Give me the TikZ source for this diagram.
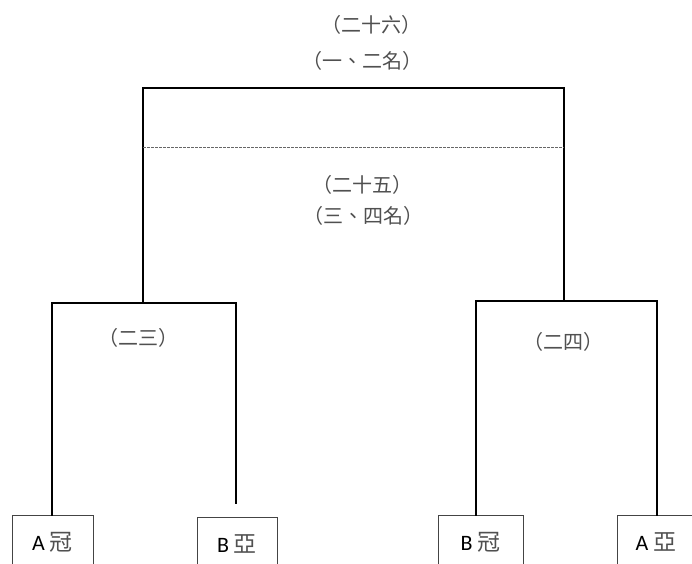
\documentclass[tikz,border=0pt]{standalone}
\usepackage{fontspec}
\setmainfont{Carlito}
\newfontfamily\cjk{Noto Sans CJK TC}
\definecolor{labelgray}{HTML}{505050}
\definecolor{boxgray}{HTML}{444444}
\tikzset{
  tag/.style={font=\cjk\fontsize{20}{20}\selectfont, text=labelgray, inner sep=0pt},
  team/.style={draw=boxgray, line width=0.8pt, anchor=north, minimum height=54pt, inner sep=0pt, font=\fontsize{22}{22}\selectfont},
  bracket/.style={line width=1.6pt, line cap=rect},
  thirdline/.style={draw=black!60, line width=0.8pt, dash pattern=on 3pt off 1pt}
}
\newcommand{\teamlabel}[2]{#1 {\cjk\fontsize{23}{23}\selectfont\color{labelgray}#2}}
\begin{document}
\begin{tikzpicture}[x=1pt,y=-1pt]
\useasboundingbox (0,0) rectangle (692,563);
\clip (0,0) rectangle (692,563);
\fill[white] (0,0) rectangle (692,563);

% match labels
\node[tag] (m26) at (371,25) {（二十六）};
\node[tag] (r12) at (362,61) {（一、二名）};
\node[tag] (m25) at (362,185) {（二十五）};
\node[tag] (r34) at (363,216) {（三、四名）};
\node[tag] (m23) at (138,338) {（二三）};
\node[tag] (m24) at (563,342) {（二四）};

% teams
\node[team, minimum width=81pt] (acham) at (52.5,515) {\teamlabel{A}{冠}};
\node[team, minimum width=80pt] (bya) at (237,517) {\teamlabel{B}{亞}};
\node[team, minimum width=85pt] (bcham) at (480.5,515) {\teamlabel{B}{冠}};
\node[team, minimum width=78pt] (aya) at (656,515) {\teamlabel{A}{亞}};

% bracket corners
\coordinate (j23l) at (52,303);
\coordinate (j23r) at (236,303);
\coordinate (e23) at (236,503);
\coordinate (j24l) at (476,301);
\coordinate (j24r) at (657,301);
\coordinate (top23) at (143,88);
\coordinate (top24) at (564,88);
\coordinate (d25l) at (143,147);
\coordinate (d25r) at (564,147);

\draw[bracket] (acham.north -| j23l) -- (j23l) -- (j23r) -- (e23);
\draw[bracket] (bcham.north -| j24l) -- (j24l) -- (j24r) -- (aya.north -| j24r);
\draw[bracket] (j23l -| top23) -- (top23) -- (top24) -- (j24l -| top24);
\draw[thirdline] (d25l) -- (d25r);
\end{tikzpicture}
\end{document}
